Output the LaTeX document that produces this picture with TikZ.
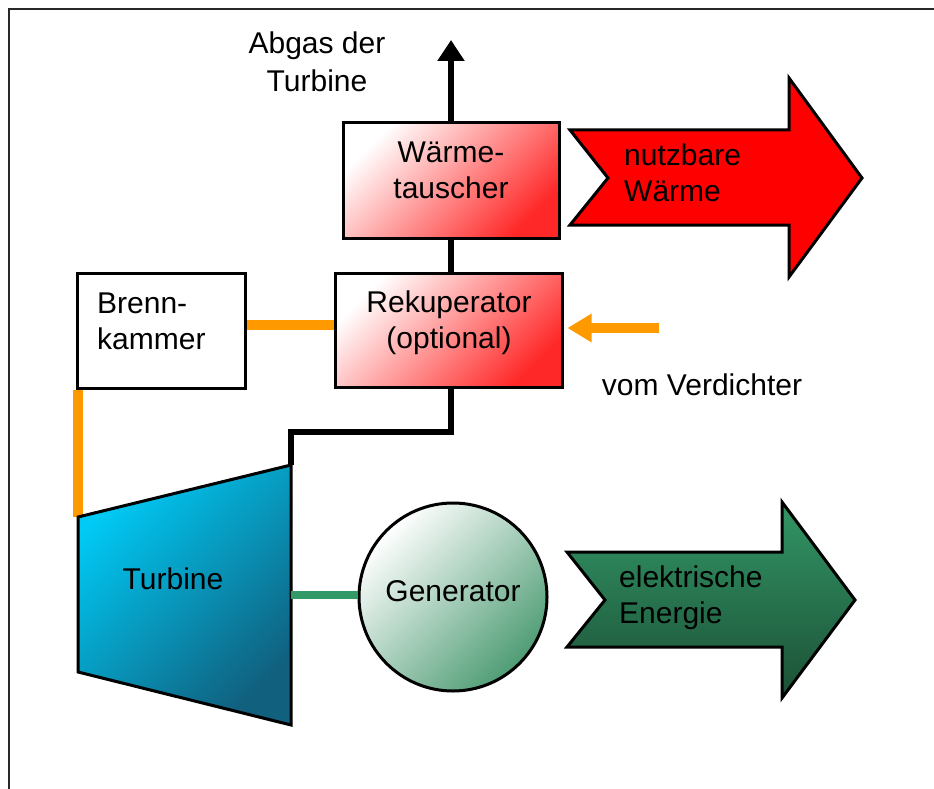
\documentclass[tikz,border=0pt]{standalone}
\usepackage{fontspec}
\setmainfont{Liberation Sans}
\usetikzlibrary{arrows.meta}
\definecolor{orng}{RGB}{255,153,0}
\definecolor{gline}{RGB}{51,153,102}
\definecolor{hotred}{RGB}{255,40,40}
\definecolor{cyanA}{RGB}{0,202,245}
\definecolor{tealB}{RGB}{16,96,126}
\definecolor{genG}{RGB}{78,156,116}
\definecolor{arrGa}{RGB}{50,150,102}
\definecolor{arrGb}{RGB}{28,80,54}
\definecolor{framegray}{RGB}{40,40,40}
\begin{document}
\begin{tikzpicture}[x=1pt,y=-1pt,
  every node/.style={font=\fontsize{30}{36}\selectfont},
  box/.style={draw=black, line width=3pt, inner sep=0pt},
  hotbox/.style={box, top color=white, bottom color=hotred, shading angle=45},
  txt/.style={inner sep=0pt, align=center},
  lefttxt/.style={inner sep=0pt, align=left, anchor=west},
  exhaust/.style={draw=black, line width=6pt, line join=miter},
  orangeline/.style={draw=orng, line width=10pt},
  genline/.style={draw=gline, line width=8pt},
  bigarrow/.style={draw=black, line width=3pt, line join=miter}]
\useasboundingbox (0,0) rectangle (934,789);
\fill[white] (0,0) rectangle (934,789);
\draw[framegray, line width=2pt] (9,789) -- (9,9) -- (934,9);

% turbine corners
\coordinate (ttl) at (78,517);
\coordinate (ttr) at (291,465);
\coordinate (tbr) at (291,725);
\coordinate (tbl) at (78,672);
\coordinate (tcon) at (291,595);
\coordinate (abgasend) at (451,40);
\coordinate (vdstart) at (659,328);

% boxes
\node[hotbox, minimum width=216pt, minimum height=115pt] (wtbox) at (451,180.5) {};
\node[hotbox, minimum width=227pt, minimum height=114pt] (rekbox) at (448.5,330.5) {};
\node[box, fill=white, minimum width=168pt, minimum height=115pt] (bkbox) at (161,330.5) {};

\node[txt] (wt) at (451,170) {Wärme-\\tauscher};
\node[txt] (rek) at (449,323) {Rekuperator\\(optional)};
\node[lefttxt] (bk) at (97,321.5) {Brenn-\\kammer};

% black exhaust lines
\draw[exhaust, -{Triangle[length=21pt,width=26pt]}] (wtbox.north) -- (abgasend);
\draw[exhaust] (wtbox.south) -- (wtbox.south |- rekbox.north);
\draw[exhaust] (wtbox.south |- rekbox.south) -- ++(0,43) -| (ttr);

% orange lines
\draw[orangeline] ([yshift=6pt]bkbox.east) -- ([yshift=6pt]rekbox.west);
\draw[orangeline] (bkbox.south west -| ttl) -- (ttl);
\draw[orangeline, -{Triangle[length=24pt,width=27pt]}] (vdstart) -- ([xshift=4pt]rekbox.east |- vdstart);

% turbine
\path[draw=black, line width=3pt, line join=miter, top color=cyanA, bottom color=tealB, shading angle=45]
  (ttl) -- (ttr) -- (tbr) -- (tbl) -- cycle;
\node[txt] (turb) at (173,579) {Turbine};

% generator
\node[draw=black, circle, line width=3pt, minimum size=188pt, inner sep=0pt,
  top color=white, bottom color=genG, shading angle=45] (gen) at (453,597) {};
\node[txt] (genT) at (453,591) {Generator};
\draw[genline] (tcon) -- (gen.west |- tcon);

% big arrows
\path[bigarrow, fill=red] (570,130) -- (789,130) -- (789,78) -- (862,178) -- (789,277) -- (789,225) -- (570,225) -- (608,178) -- cycle;
\node[lefttxt] (nw) at (624,172.5) {nutzbare\\Wärme};

\path[bigarrow, top color=arrGa, bottom color=arrGb] (567,552) -- (782,552) -- (782,502) -- (855,600) -- (782,698) -- (782,647) -- (567,647) -- (605,600) -- cycle;
\node[lefttxt] (ee) at (619,598) {elektrische\\Energie};

% labels
\node[txt, font=\fontsize{30}{38}\selectfont] (ab) at (317,62) {Abgas der\\Turbine};
\node[txt] (vd) at (702,385) {vom Verdichter};
\end{tikzpicture}
\end{document}
